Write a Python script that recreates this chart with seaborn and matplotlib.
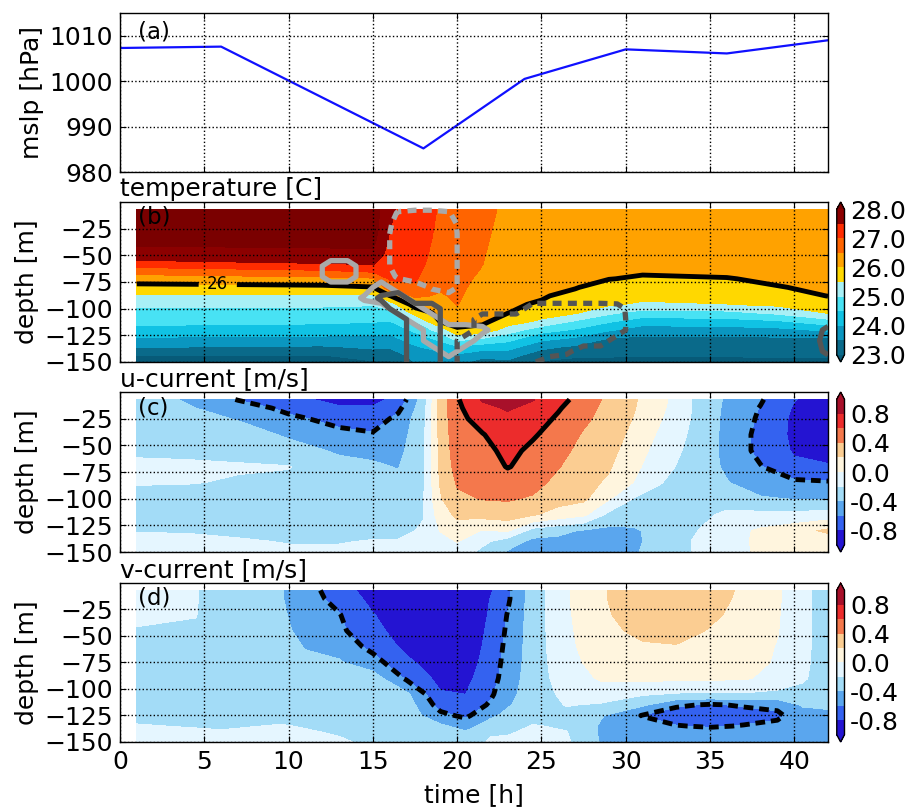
import numpy as np
import matplotlib
matplotlib.use("Agg")
import matplotlib.pyplot as plt
import seaborn as sns
from matplotlib.colors import ListedColormap
from matplotlib.ticker import FormatStrFormatter

# %% values

# (a) mean sea level pressure
hours = [0, 6, 12, 18, 24, 30, 36, 42]
mslp = [1007.3, 1007.6, 996.4, 985.2, 1000.5, 1007.0, 1006.1, 1009.0]

# (b) temperature, one profile per time (values from top to bottom of temp_z)
temp_t = [1, 12, 15, 16, 17.5, 19, 20, 21.5, 23, 25, 27, 29, 31, 36, 39, 42]
temp_z = [-7, -20, -35, -50, -58, -65, -72, -80, -88, -96, -104, -112, -120, -128, -136, -144, -150]
temp_profiles = [
    [28.3, 28.25, 28.15, 27.8, 27.29, 26.7, 26.25, 25.83, 25.42, 25.08, 24.84, 24.63, 24.35, 23.94, 23.52, 22.98, 22.8],
    [28.3, 28.25, 28.15, 27.87, 27.48, 26.92, 26.37, 25.88, 25.42, 25.08, 24.82, 24.59, 24.27, 23.89, 23.44, 22.97, 22.8],
    [28.3, 28.25, 28.15, 27.89, 27.54, 27.07, 26.44, 25.98, 25.38, 25.04, 24.78, 24.53, 24.21, 23.88, 23.58, 23.23, 22.95],
    [27.56, 27.52, 27.45, 27.26, 27.19, 27.12, 27.06, 26.8, 25.98, 25.25, 24.83, 24.48, 24.17, 23.85, 23.54, 23.18, 22.95],
    [27.3, 27.28, 27.24, 27.18, 27.15, 27.1, 27.05, 26.92, 26.58, 26.2, 25.67, 24.98, 24.6, 24.25, 23.94, 23.69, 23.52],
    [26.95, 26.92, 26.88, 26.83, 26.78, 26.72, 26.65, 26.56, 26.45, 26.3, 26.15, 26.02, 25.2, 24.63, 24.2, 23.83, 23.58],
    [26.9, 26.88, 26.85, 26.8, 26.76, 26.72, 26.67, 26.62, 26.57, 26.52, 26.39, 26.18, 25.92, 25.2, 24.42, 23.89, 23.65],
    [26.7, 26.66, 26.6, 26.54, 26.51, 26.46, 26.39, 26.32, 26.25, 26.18, 26.14, 26.1, 25.85, 24.98, 24.25, 23.64, 23.3],
    [26.35, 26.3, 26.25, 26.19, 26.16, 26.14, 26.11, 26.09, 26.06, 26.04, 26.01, 25.75, 25.25, 24.69, 24.19, 23.69, 23.4],
    [26.35, 26.3, 26.24, 26.18, 26.15, 26.12, 26.09, 26.06, 26.03, 25.97, 25.72, 25.4, 24.71, 24.14, 23.63, 23.2, 22.95],
    [26.35, 26.3, 26.24, 26.18, 26.14, 26.1, 26.06, 26.02, 25.91, 25.73, 25.55, 24.94, 24.44, 23.93, 23.4, 23.05, 22.9],
    [26.35, 26.3, 26.22, 26.14, 26.1, 26.05, 26.01, 25.86, 25.71, 25.57, 25.1, 24.56, 24.06, 23.48, 23.28, 23.03, 22.9],
    [26.35, 26.3, 26.22, 26.14, 26.09, 26.04, 25.96, 25.8, 25.64, 25.42, 24.79, 24.25, 23.75, 23.4, 23.21, 23.02, 22.9],
    [26.35, 26.3, 26.22, 26.14, 26.1, 26.05, 25.99, 25.83, 25.67, 25.49, 24.86, 24.31, 23.79, 23.4, 23.21, 23.02, 22.9],
    [26.35, 26.3, 26.22, 26.15, 26.11, 26.08, 26.04, 25.99, 25.8, 25.6, 25.1, 24.43, 23.86, 23.43, 23.24, 23.05, 22.9],
    [26.35, 26.3, 26.24, 26.18, 26.15, 26.12, 26.08, 26.04, 26.01, 25.78, 25.53, 24.8, 24.08, 23.45, 23.24, 23.05, 22.9],
]

# grey overlay contours in (b): light grey field (rows = depth, cols = time)
lgrey_t = [11.5, 12.5, 13.5, 14.5, 15.5, 16.5, 17.5, 18.5, 19.5, 20.5, 21.5, 22.5]
lgrey_z = [0, -10, -20, -30, -40, -50, -60, -70, -80, -90, -100, -110, -120, -130, -140, -150]
lgrey = [
    [0, 0, 0, 0, 0, 0, 0, 0, 0, 0, 0, 0],
    [0, 0, 0, 0, 0, -1.1, -1.3, -1.3, -1.1, 0, 0, 0],
    [0, 0, 0, 0, 0, -1.6, -2, -2, -1.8, 0, 0, 0],
    [0, 0, 0, 0, 0, -2, -2, -2, -2, 0, 0, 0],
    [0, 0, 0, 0, 0, -2, -2, -2, -2, 0, 0, 0],
    [0, 0, 0, 0, 0, -2, -2, -2, -2, 0, 0, 0],
    [0, 2, 2, 0, 0, -2, -2, -2, -2, 0, 0, 0],
    [0, 2, 2, 0, 0, -1.2, -2, -2, -2, 0, 0, 0],
    [0, 0, 0, 0, 2, 0, 0, -1.2, -2, 0, 0, 0],
    [0, 0, 0, 1.3, 2, 2, 0, 0, 0, 0, 0, 0],
    [0, 0, 0, 0, 0, 2, 2, 0, 0, 0, 0, 0],
    [0, 0, 0, 0, 0, 0, 2, 2, 0, 0, 0, 0],
    [0, 0, 0, 0, 0, 0, 0, 2, 2, 2, 1.5, 0],
    [0, 0, 0, 0, 0, 0, 0, 2, 2, 2, 0, 0],
    [0, 0, 0, 0, 0, 0, 0, 0, 2, 0, 0, 0],
    [0, 0, 0, 0, 0, 0, 0, 0, 0, 0, 0, 0],
]

# dark grey field
dgrey_t = [14.5, 15.5, 16.5, 17.5, 18.5, 19.5, 20.5, 21.5, 22.5, 23.5, 24.5,
           25.5, 26.5, 27.5, 28.5, 29.5, 30.5, 31.5, 32.5, 41.0, 42.0]
dgrey_z = [-80, -90, -100, -110, -120, -130, -140, -150]
dgrey = [
    [0, 0, 0, 0, 0, 0, 0, 0, 0, 0, 0, 0, 0, 0, 0, 0, 0, 0, 0, 0, 0],
    [0, 1.3, 2, 0, 0, 0, 0, 0, 0, 0, 0, 0, 0, 0, 0, 0, 0, 0, 0, 0, 0],
    [0, 0, 2, 2, 2, 0, 0, 0, 0, 0, -2, -2, -2, -2, -2, -1.8, 0, 0, 0, 0, 0],
    [0, 0, 0, 2, 2, 0, 0, -2, -2, -2, -2, -2, -2, -2, -2, -2, 0, 0, 0, 0, 0],
    [0, 0, 0, 2, 2, 0, 0, -2, -2, -2, -2, -2, -2, -2, -2, -2, 0, 0, 0, 0, 1.5],
    [0, 0, 0, 2, 2, 0, -2, -2, -2, -2, -2, -2, -2, -2, -2, 0, 0, 0, 0, 0, 2],
    [0, 0, 0, 2, 2, 0, -2, -2, -2, -2, -2, -2, -1.4, 0, 0, 0, 0, 0, 0, 0, 1.5],
    [0, 0, 0, 2, 2, 0, -2, -2, -2, -2, -1.2, 0, 0, 0, 0, 0, 0, 0, 0, 0, 0],
]

# (c) u-current, one profile per time
u_t = [1, 4, 7, 10, 13, 15, 16.5, 18, 19, 20, 21.5, 23, 24.5, 26, 27.5, 29, 30.5, 32, 34, 36, 38, 40, 42]
u_z = [-7, -15, -25, -40, -55, -70, -85, -100, -115, -130, -140, -150]
u_profiles = [
    [-0.3, -0.3, -0.3, -0.28, -0.24, -0.15, -0.18, -0.3, -0.28, -0.21, -0.15, -0.12],
    [-0.42, -0.38, -0.34, -0.3, -0.25, -0.16, -0.19, -0.3, -0.3, -0.21, -0.17, -0.14],
    [-0.61, -0.5, -0.41, -0.33, -0.26, -0.18, -0.22, -0.3, -0.3, -0.24, -0.18, -0.15],
    [-0.75, -0.65, -0.56, -0.42, -0.34, -0.19, -0.25, -0.3, -0.31, -0.26, -0.21, -0.17],
    [-0.85, -0.78, -0.66, -0.55, -0.42, -0.35, -0.3, -0.3, -0.3, -0.26, -0.21, -0.17],
    [-0.85, -0.78, -0.7, -0.58, -0.45, -0.37, -0.32, -0.3, -0.3, -0.25, -0.19, -0.16],
    [-0.75, -0.65, -0.55, -0.5, -0.46, -0.41, -0.35, -0.3, -0.28, -0.24, -0.19, -0.15],
    [-0.3, -0.28, -0.26, -0.24, -0.22, -0.22, -0.22, -0.21, -0.21, -0.18, -0.15, -0.12],
    [0.28, 0.28, 0.28, 0.27, 0.26, 0.25, 0.22, 0.18, 0.1, 0.01, -0.08, -0.14],
    [0.58, 0.56, 0.54, 0.52, 0.5, 0.47, 0.42, 0.36, 0.24, 0.1, 0.01, -0.08],
    [0.82, 0.75, 0.68, 0.59, 0.54, 0.5, 0.46, 0.41, 0.27, -0.01, -0.15, -0.25],
    [0.88, 0.82, 0.76, 0.7, 0.65, 0.61, 0.5, 0.42, 0.3, 0.02, -0.3, -0.42],
    [0.81, 0.75, 0.7, 0.62, 0.56, 0.53, 0.46, 0.38, 0.22, -0.28, -0.45, -0.48],
    [0.68, 0.62, 0.57, 0.52, 0.46, 0.41, 0.35, 0.28, 0.12, -0.35, -0.45, -0.47],
    [0.5, 0.47, 0.44, 0.38, 0.34, 0.3, 0.26, 0.24, 0.04, -0.42, -0.46, -0.46],
    [0.36, 0.34, 0.32, 0.29, 0.26, 0.22, 0.17, 0.02, -0.25, -0.45, -0.47, -0.46],
    [0.22, 0.21, 0.19, 0.15, 0.1, 0.05, -0.01, -0.21, -0.33, -0.42, -0.42, -0.41],
    [0.07, 0.05, 0.02, -0.03, -0.08, -0.13, -0.19, -0.26, -0.31, -0.35, -0.36, -0.36],
    [-0.21, -0.21, -0.22, -0.24, -0.26, -0.28, -0.3, -0.3, -0.27, -0.22, -0.19, -0.19],
    [-0.43, -0.44, -0.45, -0.45, -0.45, -0.43, -0.39, -0.3, -0.16, -0.08, -0.06, -0.05],
    [-0.58, -0.61, -0.63, -0.66, -0.66, -0.59, -0.5, -0.38, -0.15, 0.03, 0.03, 0.02],
    [-0.79, -0.82, -0.84, -0.84, -0.82, -0.76, -0.56, -0.41, -0.15, 0.12, 0.06, 0.04],
    [-0.9, -0.92, -0.93, -0.92, -0.88, -0.78, -0.58, -0.41, -0.12, 0.24, 0.08, 0.05],
]

# (d) v-current, one profile per time
v_t = [1, 4.5, 6, 9.5, 11, 13, 15, 17, 19, 20.5, 22, 23, 24.5, 26.5, 28.5, 31, 33, 35, 37, 39, 40.5, 42]
v_z = [-7, -15, -30, -45, -60, -75, -90, -105, -115, -125, -135, -142, -150]
v_profiles = [
    [-0.15, -0.15, -0.17, -0.21, -0.24, -0.26, -0.27, -0.27, -0.26, -0.24, -0.19, -0.16, -0.14],
    [-0.19, -0.19, -0.195, -0.22, -0.25, -0.27, -0.28, -0.28, -0.27, -0.25, -0.21, -0.17, -0.15],
    [-0.28, -0.29, -0.3, -0.3, -0.3, -0.3, -0.3, -0.3, -0.28, -0.26, -0.22, -0.18, -0.16],
    [-0.38, -0.38, -0.36, -0.34, -0.32, -0.31, -0.3, -0.3, -0.28, -0.25, -0.19, -0.16, -0.14],
    [-0.52, -0.52, -0.5, -0.47, -0.41, -0.36, -0.33, -0.31, -0.29, -0.26, -0.21, -0.18, -0.16],
    [-0.7, -0.66, -0.59, -0.56, -0.47, -0.38, -0.34, -0.31, -0.29, -0.26, -0.23, -0.21, -0.18],
    [-0.9, -0.86, -0.79, -0.74, -0.66, -0.52, -0.3, -0.3, -0.29, -0.27, -0.25, -0.24, -0.23],
    [-0.95, -0.95, -0.93, -0.9, -0.85, -0.76, -0.63, -0.36, -0.3, -0.28, -0.27, -0.26, -0.26],
    [-1.0, -1.0, -1.0, -0.98, -0.95, -0.91, -0.86, -0.78, -0.68, -0.55, -0.36, -0.3, -0.28],
    [-1.0, -1.0, -1.0, -0.98, -0.95, -0.9, -0.85, -0.8, -0.74, -0.64, -0.48, -0.36, -0.3],
    [-0.82, -0.79, -0.77, -0.74, -0.72, -0.7, -0.68, -0.63, -0.57, -0.44, -0.3, -0.22, -0.17],
    [-0.63, -0.63, -0.59, -0.57, -0.55, -0.53, -0.5, -0.46, -0.42, -0.35, -0.26, -0.21, -0.16],
    [-0.3, -0.3, -0.3, -0.3, -0.3, -0.3, -0.3, -0.3, -0.3, -0.26, -0.19, -0.16, -0.14],
    [-0.02, -0.02, -0.03, -0.04, -0.05, -0.07, -0.1, -0.15, -0.19, -0.25, -0.22, -0.19, -0.17],
    [0.18, 0.18, 0.17, 0.15, 0.12, 0.08, 0.02, -0.1, -0.22, -0.38, -0.42, -0.42, -0.41],
    [0.3, 0.3, 0.28, 0.24, 0.18, 0.12, 0.04, -0.18, -0.37, -0.61, -0.5, -0.45, -0.43],
    [0.32, 0.32, 0.3, 0.26, 0.19, 0.12, 0.04, -0.22, -0.57, -0.7, -0.59, -0.5, -0.46],
    [0.28, 0.27, 0.23, 0.19, 0.15, 0.1, 0.03, -0.23, -0.62, -0.72, -0.62, -0.5, -0.46],
    [0.17, 0.16, 0.15, 0.13, 0.1, 0.07, 0.02, -0.22, -0.58, -0.68, -0.59, -0.5, -0.46],
    [0.03, 0.03, 0.02, 0.01, -0.01, -0.02, -0.06, -0.25, -0.55, -0.64, -0.55, -0.48, -0.45],
    [-0.17, -0.17, -0.17, -0.17, -0.17, -0.17, -0.18, -0.25, -0.38, -0.48, -0.48, -0.46, -0.45],
    [-0.26, -0.26, -0.26, -0.26, -0.26, -0.27, -0.28, -0.31, -0.37, -0.44, -0.46, -0.45, -0.44],
]

# %% colour scales
temp_levels = np.arange(23, 28.01, 0.5)
temp_cmap = ListedColormap(["#0a6a8a", "#0a96c0", "#10c2e4", "#48e2f4", "#a8f0f6",
                            "#ffd800", "#ffa200", "#ff6400", "#ff2c00", "#8c0000"]
                           ).with_extremes(under="#075a78", over="#7a0000")

cur_levels = np.arange(-1.0, 1.01, 0.2)
cur_cmap = ListedColormap(["#2414d2", "#3462f0", "#5aa6ee", "#a3dcf7", "#e5f6ff",
                           "#fff5de", "#fbcd92", "#f4784c", "#ec2c2c", "#a8102a"]
                          ).with_extremes(under="#2414d2", over="#a8102a")

# %% figure
FS = 18
sns.set_style("ticks")
plt.rcParams.update({
    "font.family": ["DejaVu Sans"],
    "font.size": FS,
    "axes.linewidth": 1.0,
    "axes.edgecolor": "black",
    "axes.labelcolor": "black",
    "text.color": "black",
    "xtick.color": "black",
    "ytick.color": "black",
    "xtick.direction": "in",
    "ytick.direction": "in",
    "xtick.top": True,
    "ytick.right": True,
    "xtick.major.size": 4.5,
    "ytick.major.size": 4.5,
    "xtick.major.pad": 6,
    "ytick.major.pad": 5,
})

fig = plt.figure(figsize=(9.11, 8.08), dpi=100)
ax_a = fig.add_axes([0.1317, 0.7871, 0.7772, 0.1968])
ax_b = fig.add_axes([0.1317, 0.5520, 0.7772, 0.1980])
ax_c = fig.add_axes([0.1317, 0.3168, 0.7772, 0.1980])
ax_d = fig.add_axes([0.1317, 0.0817, 0.7772, 0.1968])

dash_grey = (0, (1.7, 1.2))
dash_black = (0, (2.0, 1.2))


def add_cbar(cf, ax, ticks):
    pos = ax.get_position()
    cax = fig.add_axes([0.9185, pos.y0, 0.0085, pos.height])
    cb = fig.colorbar(cf, cax=cax, ticks=ticks, format=FormatStrFormatter("%.1f"))
    cb.outline.set_linewidth(1.0)
    cax.tick_params(direction="in", length=3, pad=4, labelsize=FS, left=False, right=True)
    return cb


# (a)
sns.lineplot(x=hours, y=mslp, ax=ax_a, color="#1010ff", linewidth=1.6)
ax_a.set_ylim(980, 1015)
ax_a.set_yticks([980, 990, 1000, 1010])
ax_a.set_ylabel("mslp [hPa]")

# (b)
T = np.array(temp_profiles).T
cf_b = ax_b.contourf(temp_t, temp_z, T, levels=temp_levels, cmap=temp_cmap, extend="both")
cs26 = ax_b.contour(temp_t, temp_z, T, levels=[26], colors="k", linewidths=3.5)
ax_b.clabel(cs26, fmt="%d", manual=[(5.8, -77)], inline=True, inline_spacing=9, fontsize=12)
ax_b.contour(lgrey_t, lgrey_z, np.array(lgrey), levels=[-1, 1], colors="#a9a9a9",
             linewidths=3.8, linestyles=[dash_grey, "solid"], zorder=3)
ax_b.contour(dgrey_t, dgrey_z, np.array(dgrey), levels=[-1, 1], colors="#555555",
             linewidths=3.8, linestyles=[dash_grey, "solid"], zorder=3)
ax_b.set_title("temperature [C]", loc="left", pad=4, fontsize=FS)
add_cbar(cf_b, ax_b, [23, 24, 25, 26, 27, 28])

# (c)
U = np.array(u_profiles).T
cf_c = ax_c.contourf(u_t, u_z, U, levels=cur_levels, cmap=cur_cmap, extend="both")
ax_c.contour(u_t, u_z, U, levels=[-0.6, 0.6], colors="k", linewidths=3.5,
             linestyles=[dash_black, "solid"])
ax_c.set_title("u-current [m/s]", loc="left", pad=4, fontsize=FS)
add_cbar(cf_c, ax_c, [-0.8, -0.4, 0.0, 0.4, 0.8])

# (d)
V = np.array(v_profiles).T
cf_d = ax_d.contourf(v_t, v_z, V, levels=cur_levels, cmap=cur_cmap, extend="both")
ax_d.contour(v_t, v_z, V, levels=[-0.6, 0.6], colors="k", linewidths=3.5,
             linestyles=[dash_black, "solid"])
ax_d.set_title("v-current [m/s]", loc="left", pad=4, fontsize=FS)
add_cbar(cf_d, ax_d, [-0.8, -0.4, 0.0, 0.4, 0.8])
ax_d.set_xlabel("time [h]", labelpad=6)

for ax, lab in zip([ax_a, ax_b, ax_c, ax_d], ["(a)", "(b)", "(c)", "(d)"]):
    ax.set_xlim(0, 42)
    ax.set_xticks(range(0, 45, 5))
    ax.set_axisbelow(False)
    ax.grid(True, linestyle=":", color="k", linewidth=1.0)
    ax.tick_params(labelsize=FS)
    ypos = 0.95 if lab == "(a)" else 0.975
    ax.text(0.026, ypos, lab, transform=ax.transAxes, ha="left", va="top", fontsize=16.5)
    if ax is not ax_a:
        ax.set_ylim(-150, 0)
        ax.set_yticks([-150, -125, -100, -75, -50, -25])
        ax.set_ylabel("depth [m]")
    if ax is not ax_d:
        ax.tick_params(labelbottom=False)

fig.align_ylabels([ax_a, ax_b, ax_c, ax_d])
fig.savefig("out.png", dpi=100)
